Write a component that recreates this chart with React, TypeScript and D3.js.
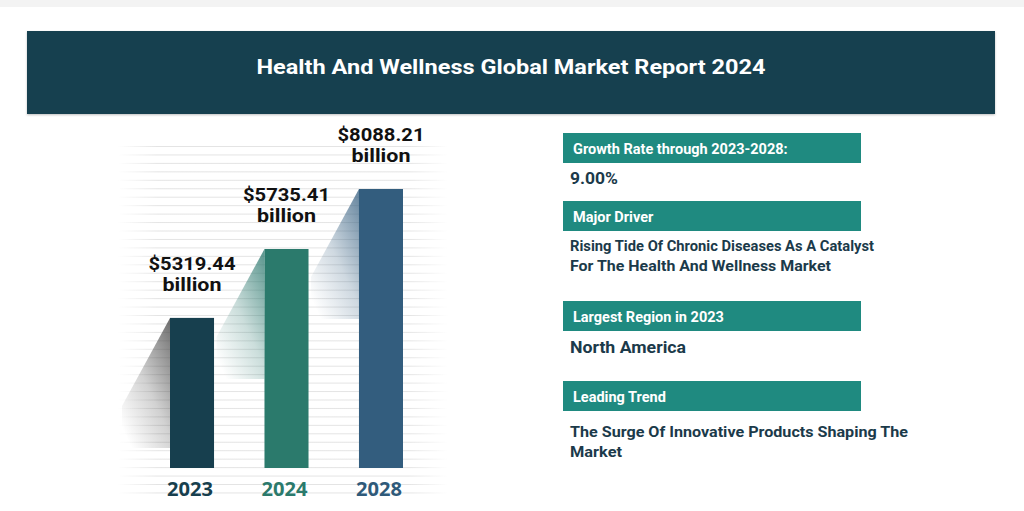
import React from "react";
import * as d3 from "d3";

const title = "Health And Wellness Global Market Report 2024";
const years = ["2023", "2024", "2028"];
const values = [5319.44, 5735.41, 8088.21];
const barColors = ["#173f4e", "#2b7a6c", "#335d7e"];
const yearColors = ["#173f4e", "#2b7a6c", "#2f5a7a"];
const shadeColors = ["#4a4a4a", "#2f7a70", "#3d6585"];
// Display scale of the infographic (not zero-based): plot-height fractions per value
const displayDomain = [3000, 5319.44, 5735.41, 8088.21];
const displayFraction = [0, 0.538, 0.785, 1];

const panels = [
  { head: "Growth Rate through 2023-2028:", lines: ["9.00%"], size: 17 },
  { head: "Major Driver", lines: ["Rising Tide Of Chronic Diseases As A Catalyst", "For The Health And Wellness Market"], size: 14 },
  { head: "Largest Region in 2023", lines: ["North America"], size: 17 },
  { head: "Leading Trend", lines: ["The Surge Of Innovative Products Shaping The", "Market"], size: 15.5 },
];

const W = 1024, H = 511;

export default function App() {
  const plotTop = 189, plotBottom = 468;
  const x = d3.scaleBand<string>().domain(years).range([170, 403]).paddingInner(0.534).paddingOuter(0);
  const frac = d3.scaleLinear().domain(displayDomain).range(displayFraction).clamp(true);
  const y = (v: number) => plotBottom - frac(v) * (plotBottom - plotTop);

  const stripes = d3.range(146, 496, 8.45);

  const panelTops = [133, 201, 301, 381];
  const lineFirst = [184, 251, 353, 437];
  const lineStep = [20, 20, 20, 20];
  const lineWidths: number[][] = [[48], [304, 261], [116], [338, 52]];

  return (
    <svg width={W} height={H} style={{ position: "absolute", left: 0, top: 0, display: "block", background: "#ffffff" }}>
      <defs>
        <linearGradient id="stripeFade" x1="0" x2="1" y1="0" y2="0">
          <stop offset="0" stopColor="#e4e4e4" stopOpacity="0" />
          <stop offset="0.12" stopColor="#e4e4e4" stopOpacity="1" />
          <stop offset="0.88" stopColor="#e4e4e4" stopOpacity="1" />
          <stop offset="1" stopColor="#e4e4e4" stopOpacity="0" />
        </linearGradient>
        {shadeColors.map((c, i) => (
          <linearGradient key={i} id={`shade${i}`} x1="1" y1="0" x2="0.2" y2="1">
            <stop offset="0" stopColor={c} stopOpacity="0.8" />
            <stop offset="0.55" stopColor={c} stopOpacity="0.25" />
            <stop offset="1" stopColor={c} stopOpacity="0" />
          </linearGradient>
        ))}
        <filter id="bshadow" x="-5%" y="-20%" width="110%" height="140%">
          <feDropShadow dx="0" dy="1" stdDeviation="1.2" floodColor="#000" floodOpacity="0.25" />
        </filter>
      </defs>
      <rect x={0} y={0} width={W} height={7} fill="#f3f3f3" />

      {/* Banner */}
      <rect x={27} y={31} width={968} height={83} fill="#17404f" filter="url(#bshadow)" />
      <text x={511} y={74} textAnchor="middle" fill="#ffffff" fontFamily="Roboto, sans-serif" fontWeight={700} fontSize={20} textLength={509} lengthAdjust="spacingAndGlyphs">{title}</text>

      {/* Stripes */}
      {stripes.map((s, i) => (
        <rect key={i} x={118} y={s} width={330} height={1} fill="url(#stripeFade)" />
      ))}

      {/* Shades */}
      {years.map((yr, i) => {
        const x0 = x(yr)!;
        const t = y(values[i]);
        const pts = [[x0, t], [x0 - 48, t + 88], [x0 - 48, t + 130], [x0, t + 130]];
        return <polygon key={yr} points={pts.map(p => p.join(",")).join(" ")} fill={`url(#shade${i})`} />;
      })}

      {/* Bars */}
      {years.map((yr, i) => (
        <rect key={yr} x={x(yr)} y={y(values[i])} width={x.bandwidth()} height={plotBottom - y(values[i])} fill={barColors[i]} />
      ))}

      {/* Value labels */}
      {years.map((yr, i) => {
        const cx = x(yr)! + x.bandwidth() / 2;
        const t = y(values[i]);
        return (
          <g key={yr} fontFamily="Roboto, sans-serif" fontWeight={700} fontSize={18} fill="#111111" textAnchor="middle">
            <text x={cx} y={t - 48} textLength={87} lengthAdjust="spacingAndGlyphs">{"$" + values[i].toFixed(2)}</text>
            <text x={cx} y={t - 27} textLength={59} lengthAdjust="spacingAndGlyphs">billion</text>
          </g>
        );
      })}

      {/* Year labels */}
      {years.map((yr, i) => (
        <text key={yr} x={x(yr)! + x.bandwidth() / 2 - 2} y={496} textAnchor="middle" fontFamily="'Noto Sans', sans-serif" fontWeight={700} fontSize={19} fill={yearColors[i]} textLength={46} lengthAdjust="spacingAndGlyphs">{yr}</text>
      ))}

      {/* Right panels */}
      {panels.map((p, i) => (
        <g key={i}>
          <rect x={563} y={panelTops[i]} width={298} height={30} fill="#1f8a80" />
          <text x={573} y={panelTops[i] + 20.5} fill="#ffffff" fontFamily="Roboto, sans-serif" fontWeight={700} fontSize={14.5}>{p.head}</text>
          {p.lines.map((ln, j) => (
            <text key={j} x={570} y={lineFirst[i] + j * lineStep[i]} fill="#1b3a4a" fontFamily="Roboto, sans-serif" fontWeight={700} fontSize={p.size} textLength={lineWidths[i][j]} lengthAdjust="spacingAndGlyphs">{ln}</text>
          ))}
        </g>
      ))}
    </svg>
  );
}
